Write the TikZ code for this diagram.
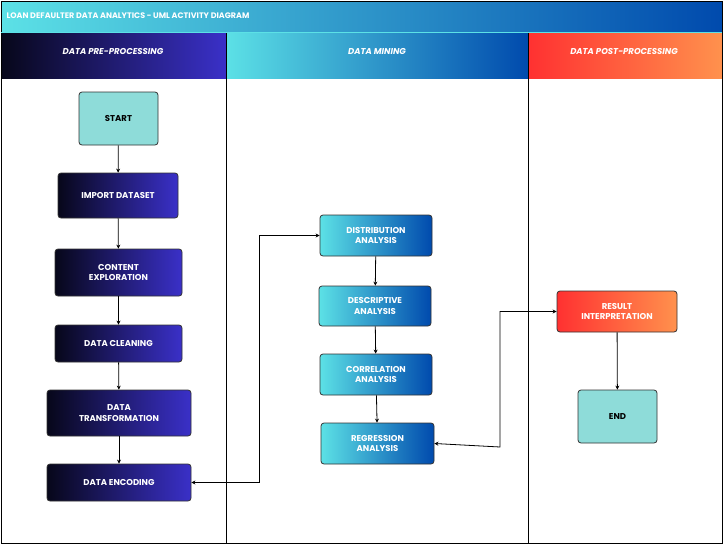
\documentclass[tikz,border=0pt]{standalone}
\usepackage{fontspec}
\setmainfont{Poppins}
\usetikzlibrary{arrows.meta}
\definecolor{dk1}{HTML}{07071A}\definecolor{dk2}{HTML}{3A30C8}
\definecolor{cy1}{HTML}{5CE1E6}\definecolor{cy2}{HTML}{004AAD}
\definecolor{rd1}{HTML}{FF3131}\definecolor{rd2}{HTML}{FF914D}
\definecolor{teal}{HTML}{8EDCD9}
\begin{document}
\begin{tikzpicture}[x=1pt,y=-1pt,
 box/.style={draw=black!80,line width=0.8pt,rounded corners=3pt,text=white,font=\bfseries\fontsize{8.5}{10.5}\selectfont,align=center,inner sep=0pt},
 dark/.style={box,left color=dk1,right color=dk2},
 mine/.style={box,left color=cy1,right color=cy2},
 post/.style={box,left color=rd1,right color=rd2},
 term/.style={box,fill=teal,text=black},
 arr/.style={-{Stealth[length=4pt,width=4pt]},line width=0.8pt},
 darr/.style={{Stealth[length=4pt,width=4pt]}-{Stealth[length=4pt,width=4pt]},line width=0.8pt},
 hdr/.style={text=white,font=\bfseries\itshape\fontsize{8.5}{10}\selectfont}]
\useasboundingbox (0,0) rectangle (724,544);
\fill[white] (0,0) rectangle (724,544);
% title bar
\shade[left color=cy1,right color=cy2] (1,1) rectangle (722,32);
\node[anchor=west,text=white,font=\bfseries\fontsize{8}{10}\selectfont] (title) at (3,16) {LOAN DEFAULTER DATA ANALYTICS - UML ACTIVITY DIAGRAM};
% headers
\shade[left color=dk1,right color=dk2] (1,32) rectangle (226,78);
\shade[left color=cy1,right color=cy2] (226,32) rectangle (528,78);
\shade[left color=rd1,right color=rd2] (528,32) rectangle (722,78);
\node[hdr] (h1) at (113,52) {DATA PRE-PROCESSING};
\node[hdr] (h2) at (377,52) {DATA MINING};
\node[hdr] (h3) at (624,52) {DATA POST-PROCESSING};
\draw[line width=0.8pt] (226,32) -- (226,544) (528,32) -- (528,544);
\draw[line width=0.8pt] (1,1) rectangle (722,543);
\draw[cy1,line width=0.8pt] (1,32) -- (722,32);
% nodes
\node[term,minimum width=79pt,minimum height=53pt] (start) at (118.5,118.5) {START};
\node[dark,minimum width=120pt,minimum height=45pt] (imp) at (118,195.5) {IMPORT DATASET};
\node[dark,minimum width=127pt,minimum height=47pt] (cont) at (118.5,272.5) {CONTENT\\EXPLORATION};
\node[dark,minimum width=127pt,minimum height=37pt] (clean) at (118.5,343.5) {DATA CLEANING};
\node[dark,minimum width=144pt,minimum height=46pt] (trans) at (119,413) {DATA\\TRANSFORMATION};
\node[dark,minimum width=144pt,minimum height=37pt] (enc) at (119,482.5) {DATA ENCODING};
\node[mine,minimum width=112pt,minimum height=41pt] (dist) at (376,235.5) {DISTRIBUTION\\ANALYSIS};
\node[mine,minimum width=112pt,minimum height=40pt] (desc) at (375,306) {DESCRIPTIVE\\ANALYSIS};
\node[mine,minimum width=112pt,minimum height=41pt] (corr) at (376,374.5) {CORRELATION\\ANALYSIS};
\node[mine,minimum width=113pt,minimum height=41pt] (reg) at (377.5,443.5) {REGRESSION\\ANALYSIS};
\node[post,minimum width=120pt,minimum height=41pt] (res) at (617,311.5) {RESULT\\INTERPRETATION};
\node[term,minimum width=79pt,minimum height=53pt] (end) at (617.5,416.5) {END};
% connectors
\draw[arr] (start) -- (imp);
\draw[arr] (imp) -- (cont);
\draw[arr] (cont) -- (clean);
\draw[arr] (clean) -- (trans);
\draw[arr] (trans) -- (enc);
\draw[arr] (dist) -- (desc);
\draw[arr] (desc) -- (corr);
\draw[arr] (corr) -- (reg);
\draw[arr] (res) -- (end);
\draw[darr] (enc.east) -- (259,482.5) |- (dist.west);
\draw[darr] (reg.east) -- (500,447) |- (res.west);
\end{tikzpicture}
\end{document}
